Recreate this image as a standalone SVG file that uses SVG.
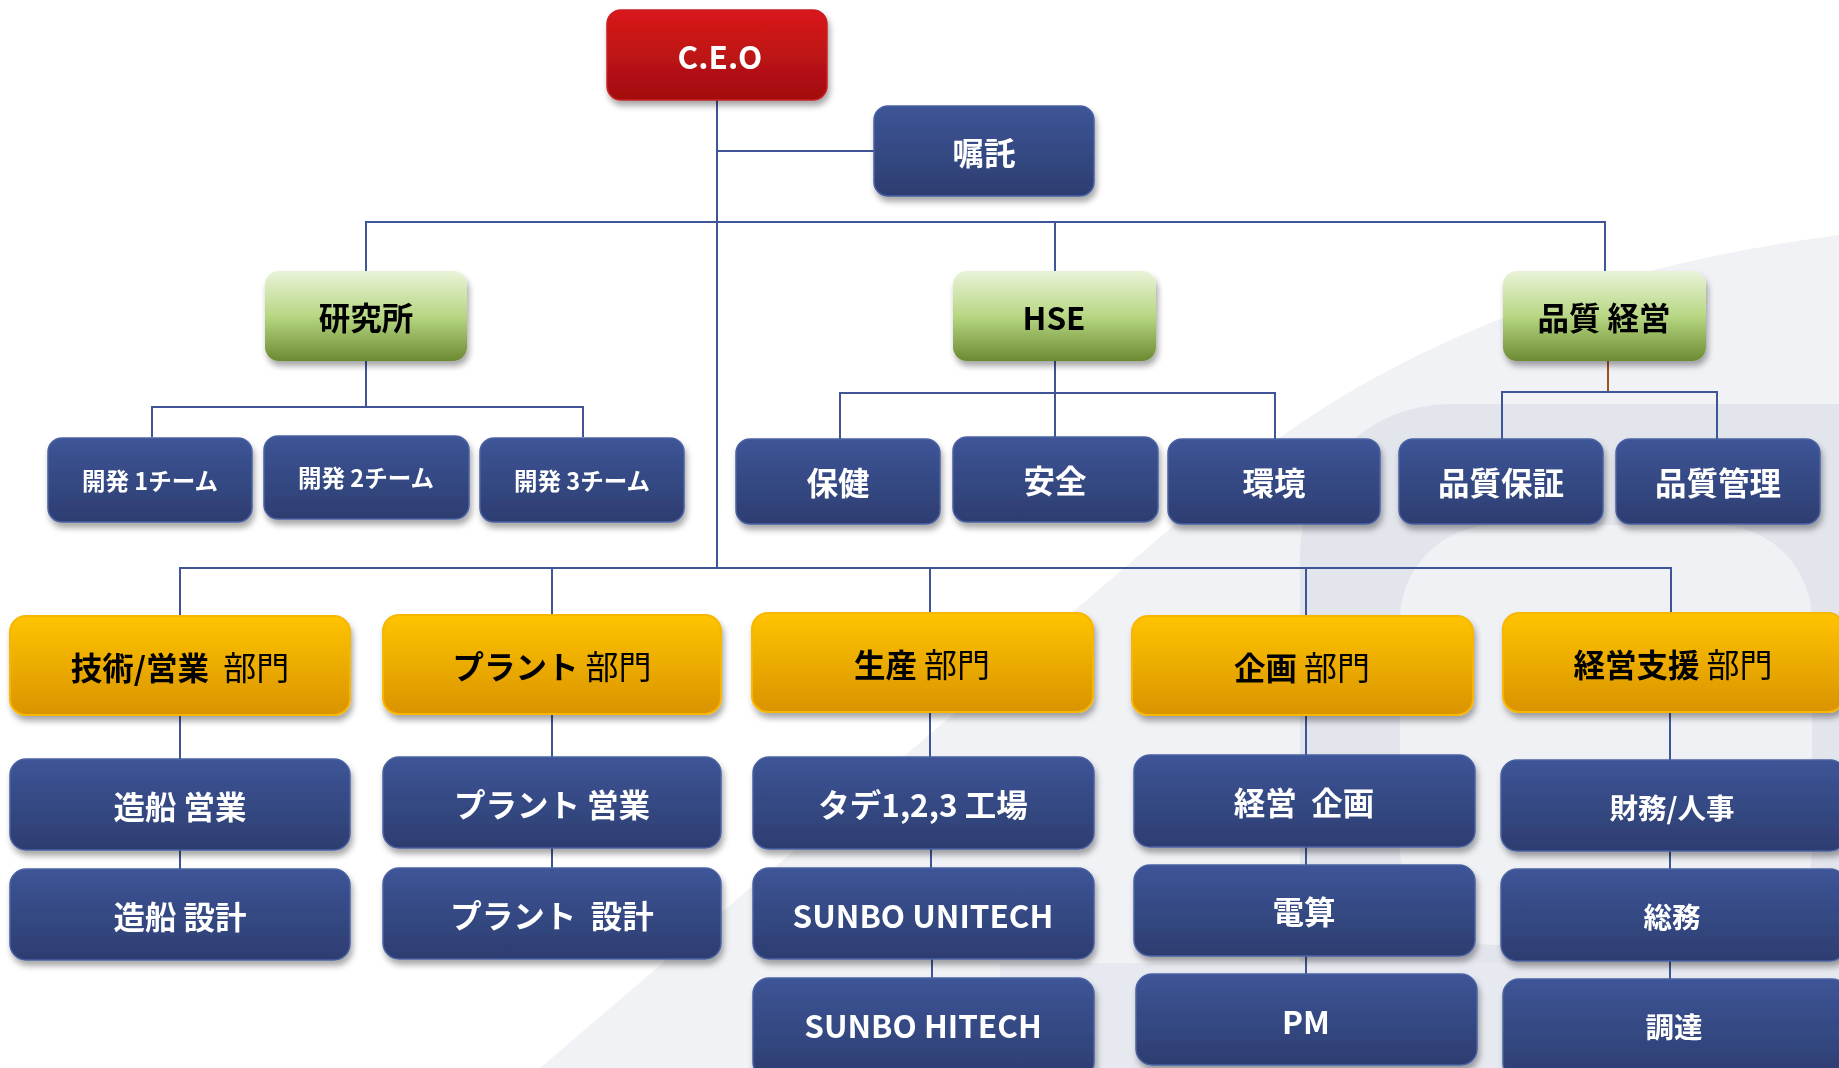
<svg xmlns="http://www.w3.org/2000/svg" width="1839" height="1068" viewBox="0 0 1839 1068">
<defs>
<linearGradient id="gBlue" x1="0" y1="0" x2="0" y2="1"><stop offset="0" stop-color="#3d5597"/><stop offset="1" stop-color="#2d3d70"/></linearGradient>
<linearGradient id="gRed" x1="0" y1="0" x2="0" y2="1"><stop offset="0" stop-color="#da171b"/><stop offset="1" stop-color="#a20e10"/></linearGradient>
<linearGradient id="gGreen" x1="0" y1="0" x2="0" y2="1"><stop offset="0" stop-color="#e9f3d9"/><stop offset="0.5" stop-color="#b8d783"/><stop offset="1" stop-color="#6b8a31"/></linearGradient>
<linearGradient id="gOrange" x1="0" y1="0" x2="0" y2="1"><stop offset="0" stop-color="#ffc400"/><stop offset="1" stop-color="#d99300"/></linearGradient>
<filter id="sh" x="-10%" y="-10%" width="120%" height="130%"><feDropShadow dx="2" dy="5" stdDeviation="3" flood-color="#000" flood-opacity="0.35"/></filter>
<style>
.box{filter:url(#sh)}
.blue{fill:url(#gBlue);stroke:#4a61a2;stroke-width:1.5}
.red{fill:url(#gRed);stroke:#c62024;stroke-width:1.5}
.green{fill:url(#gGreen);stroke:none}
.orange{fill:url(#gOrange);stroke:#f7b700;stroke-width:2}
text{font-family:"Noto Sans CJK JP","Noto Sans",sans-serif;text-anchor:middle;dominant-baseline:central;white-space:pre}
.tw{fill:#fff;font-weight:bold;font-size:31.5px}
.ts{fill:#fff;font-weight:bold;font-size:23.5px}
.tm{fill:#fff;font-weight:bold;font-size:28.5px}
.tb{fill:#000;font-weight:bold;font-size:31.5px}
.n{font-weight:normal;font-size:33px}
.ln{stroke:#3f5597;stroke-width:2;fill:none}
.lb{stroke:#a0501c;stroke-width:2;fill:none}
</style>
</defs>
<rect width="1839" height="1068" fill="#ffffff"/>
<g id="watermark">
<path d="M 540 1068 L 1180 520 Q 1420 290 1839 235 L 1839 1068 Z" fill="#f1f2f6"/>
<rect x="1300" y="404" width="700" height="720" rx="150" fill="#e2e5ec"/>
<rect x="1400" y="525" width="412" height="420" rx="95" fill="#eff1f5"/>
<path d="M 1000 963 L 1839 963 L 1839 1068 L 1000 1068 Z" fill="#e6e9ef"/>
</g>
<g id="connectors">
<path class="ln" d="M717 100 V568"/>
<path class="ln" d="M717 151 H874"/>
<path class="ln" d="M366 271 V222 H1605 V271 M1055 222 V271"/>
<path class="ln" d="M366 361 V407 M152 437 V407 H583 V437"/>
<path class="ln" d="M1055 361 V437 M840 439 V393 H1275 V439"/>
<path class="lb" d="M1608 361 V392"/>
<path class="ln" d="M1502 439 V392 H1717 V439"/>
<path class="ln" d="M180 616 V568 H1671 V613 M552 568 V615 M930 568 V613 M1306 568 V616"/>
<path class="ln" d="M180 715 V759 M180 850 V869"/>
<path class="ln" d="M552 714 V757 M552 848 V868"/>
<path class="ln" d="M930 712 V757 M931 849 V868 M932 959 V978"/>
<path class="ln" d="M1306 715 V755 M1306 847 V865 M1306 956 V974"/>
<path class="ln" d="M1670 712 V760 M1670 851 V869 M1670 961 V979"/>
</g>
<g id="ceo" class="box"><rect class="red" x="607" y="10" width="220" height="90" rx="14"/><text class="tw" x="720" y="55">C.E.O</text></g>
<g id="shokutaku" class="box"><rect class="blue" x="874" y="106" width="220" height="90" rx="14"/><text class="tw" x="984" y="151">嘱託</text></g>
<g id="kenkyusho" class="box"><rect class="green" x="265" y="271" width="202" height="90" rx="14"/><text class="tb" x="366" y="316">研究所</text></g>
<g id="hse" class="box"><rect class="green" x="953" y="271" width="203" height="90" rx="14"/><text class="tb" x="1054" y="316">HSE</text></g>
<g id="hinshitsu-keiei" class="box"><rect class="green" x="1503" y="271" width="203" height="90" rx="14"/><text class="tb" x="1604" y="316">品質 経営</text></g>
<g id="kaihatsu1" class="box"><rect class="blue" x="48" y="438" width="204" height="84" rx="14"/><text class="ts" x="150" y="480">開発 1チーム</text></g>
<g id="kaihatsu2" class="box"><rect class="blue" x="264" y="436" width="205" height="83" rx="14"/><text class="ts" x="366" y="477">開発 2チーム</text></g>
<g id="kaihatsu3" class="box"><rect class="blue" x="480" y="438" width="204" height="84" rx="14"/><text class="ts" x="582" y="480">開発 3チーム</text></g>
<g id="hoken" class="box"><rect class="blue" x="736" y="439" width="204" height="85" rx="14"/><text class="tw" x="838" y="481">保健</text></g>
<g id="anzen" class="box"><rect class="blue" x="953" y="437" width="205" height="85" rx="14"/><text class="tw" x="1055" y="479">安全</text></g>
<g id="kankyo" class="box"><rect class="blue" x="1168" y="439" width="212" height="85" rx="14"/><text class="tw" x="1274" y="481">環境</text></g>
<g id="hinshitsu-hosho" class="box"><rect class="blue" x="1399" y="439" width="204" height="85" rx="14"/><text class="tw" x="1501" y="481">品質保証</text></g>
<g id="hinshitsu-kanri" class="box"><rect class="blue" x="1616" y="439" width="204" height="85" rx="14"/><text class="tw" x="1718" y="481">品質管理</text></g>
<g id="gijutsu-eigyo-bumon" class="box"><rect class="orange" x="10" y="616" width="340" height="99" rx="16"/><text class="tb" x="180" y="666">技術/営業  <tspan class="n">部門</tspan></text></g>
<g id="plant-bumon" class="box"><rect class="orange" x="383" y="615" width="338" height="99" rx="16"/><text class="tb" x="552" y="665">プラント <tspan class="n">部門</tspan></text></g>
<g id="seisan-bumon" class="box"><rect class="orange" x="752" y="613" width="341" height="99" rx="16"/><text class="tb" x="922" y="663">生産 <tspan class="n">部門</tspan></text></g>
<g id="kikaku-bumon" class="box"><rect class="orange" x="1132" y="616" width="341" height="99" rx="16"/><text class="tb" x="1302" y="666">企画 <tspan class="n">部門</tspan></text></g>
<g id="keiei-shien-bumon" class="box"><rect class="orange" x="1503" y="613" width="341" height="99" rx="16"/><text class="tb" x="1673" y="663">経営支援 <tspan class="n">部門</tspan></text></g>
<g id="zosen-eigyo" class="box"><rect class="blue" x="10" y="759" width="340" height="91" rx="16"/><text class="tw" x="180" y="805">造船 営業</text></g>
<g id="zosen-sekkei" class="box"><rect class="blue" x="10" y="869" width="340" height="91" rx="16"/><text class="tw" x="180" y="915">造船 設計</text></g>
<g id="plant-eigyo" class="box"><rect class="blue" x="383" y="757" width="338" height="91" rx="16"/><text class="tw" x="552" y="803">プラント 営業</text></g>
<g id="plant-sekkei" class="box"><rect class="blue" x="383" y="868" width="338" height="91" rx="16"/><text class="tw" x="552" y="914">プラント  設計</text></g>
<g id="tade-kojo" class="box"><rect class="blue" x="753" y="757" width="341" height="92" rx="16"/><text class="tw" x="923" y="803">タデ1,2,3 工場</text></g>
<g id="sunbo-unitech" class="box"><rect class="blue" x="753" y="868" width="341" height="91" rx="16"/><text class="tw" x="923" y="914">SUNBO UNITECH</text></g>
<g id="sunbo-hitech" class="box"><rect class="blue" x="753" y="978" width="341" height="100" rx="16"/><text class="tw" x="923" y="1024">SUNBO HITECH</text></g>
<g id="keiei-kikaku" class="box"><rect class="blue" x="1134" y="755" width="341" height="92" rx="16"/><text class="tw" x="1304" y="801">経営  企画</text></g>
<g id="densan" class="box"><rect class="blue" x="1134" y="865" width="341" height="91" rx="16"/><text class="tw" x="1304" y="910">電算</text></g>
<g id="pm" class="box"><rect class="blue" x="1136" y="974" width="341" height="91" rx="16"/><text class="tw" x="1306" y="1020">PM</text></g>
<g id="zaimu-jinji" class="box"><rect class="blue" x="1501" y="760" width="345" height="91" rx="16"/><text class="tm" x="1672" y="806">財務/人事</text></g>
<g id="somu" class="box"><rect class="blue" x="1501" y="869" width="345" height="92" rx="16"/><text class="tm" x="1672" y="915">総務</text></g>
<g id="chotatsu" class="box"><rect class="blue" x="1503" y="979" width="345" height="100" rx="16"/><text class="tm" x="1674" y="1025">調達</text></g>
</svg>
